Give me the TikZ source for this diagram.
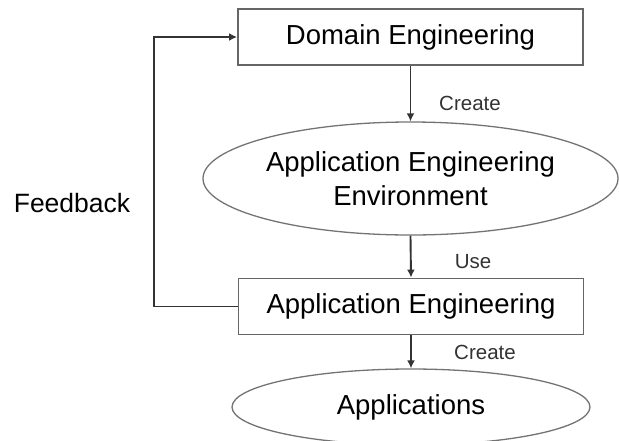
\documentclass[tikz,border=0pt]{standalone}
\usepackage{fontspec}
\setmainfont{Liberation Sans}
\usetikzlibrary{shapes.geometric,arrows.meta}
\tikzset{
	stagebox/.style={draw=black!60, line width=1.9pt, rectangle, minimum width=345pt, minimum height=56pt, font=\fontsize{27.5}{33}\selectfont},
	stageoval/.style={draw=black!55, line width=1.3pt, ellipse, inner sep=0pt, align=center, font=\fontsize{27.5}{34}\selectfont},
	flow/.style={draw=black!80, line width=1.9pt, -{Latex[length=8pt,width=8pt]}},
	steplabel/.style={anchor=center, font=\fontsize{20.5}{24}\selectfont, text=black!80}
}

\begin{document}
\begin{tikzpicture}[x=1pt,y=-1pt]
			%%%%% START %%%%%
			
			\useasboundingbox (0,0) rectangle (619,440);
			
			\node[stagebox] (domain) at (410.5, 37) {Domain Engineering};
			\node[stageoval, minimum width=415pt, minimum height=113pt] (env) at (410.5, 178.5) {Application Engineering\\Environment};
			\node[stagebox] (appeng) at (411, 306.5) {Application Engineering};
			\node[stageoval, minimum width=358pt, minimum height=76pt] (apps) at (411, 407) {Applications};
			
			\draw[flow] (domain.south) -- (env.north);
			\draw[flow] (env.south) -- (appeng.north);
			\draw[flow] (appeng.south) -- (apps.north);
			
			\node[steplabel] (create1) at (470, 103) {Create};
			\node[steplabel] (use) at (473, 262) {Use};
			\node[steplabel] (create2) at (485, 352) {Create};
			
			% feedback loop on the left
			\draw[flow] (appeng.west) -- ++(-84, 0) |- (domain.west);
			\node[font=\fontsize{26.5}{32}\selectfont] (feedback) at (72, 203) {Feedback};
			
			%%%%% END %%%%%
		\end{tikzpicture}
\end{document}
